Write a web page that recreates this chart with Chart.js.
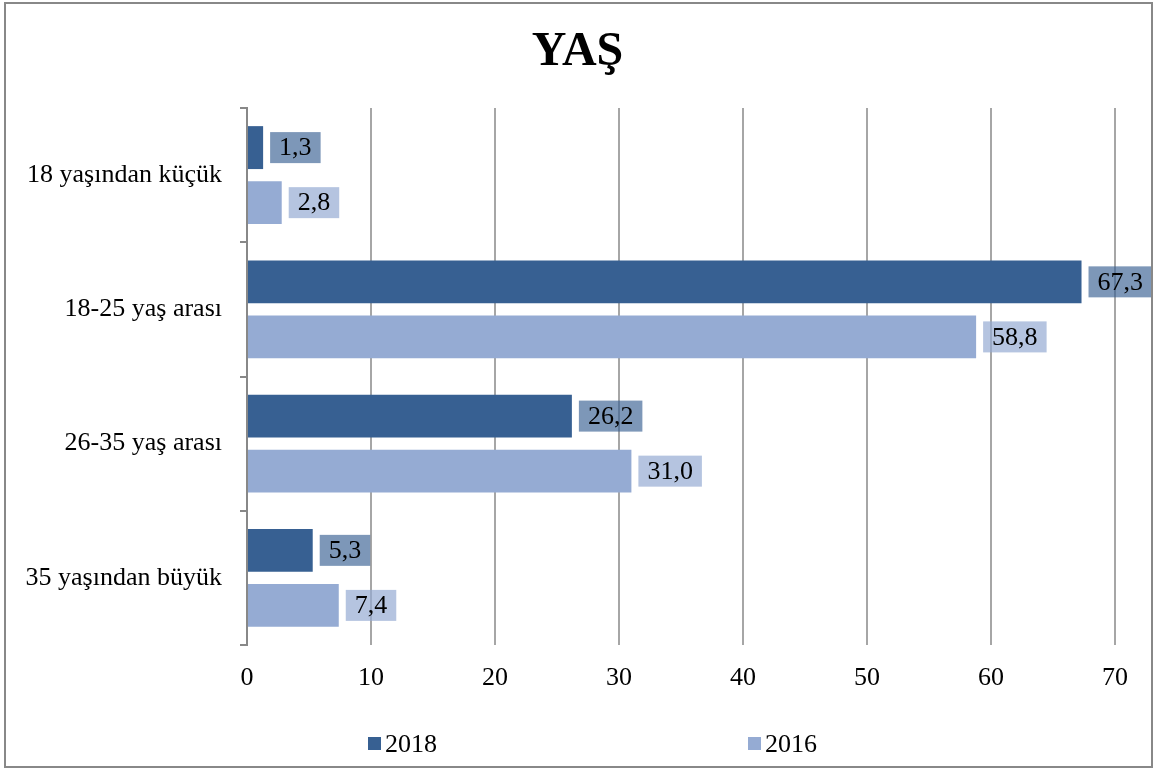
<!DOCTYPE html>
<html><head><meta charset="utf-8">
<script src="https://cdn.jsdelivr.net/npm/chart.js@4/dist/chart.umd.min.js"></script>
<style>html,body{margin:0;padding:0;background:#fff;}#wrap{width:1155px;height:770px;position:relative}</style>
</head><body><div id="wrap"><canvas id="c" width="1155" height="770"></canvas></div>
<script>
const categories = ['18 yaşından küçük', '18-25 yaş arası', '26-35 yaş arası', '35 yaşından büyük'];
const seriesNames = ['2018', '2016'];
const values2018 = [1.3, 67.3, 26.2, 5.3];
const values2016 = [2.8, 58.8, 31.0, 7.4];
const xTickValues = [0, 10, 20, 30, 40, 50, 60, 70];
const titleText = 'YAŞ';

const colors = ['#376092', '#95abd3'];
const labelBoxColors = ['rgba(55,96,146,0.65)', 'rgba(149,171,211,0.7)'];
const SERIF = '"Liberation Serif", "Times New Roman", serif';
const FS = 26;

const fmt = v => v.toFixed(1).replace('.', ',');

const dataLabelPlugin = {
  id: 'dataLabels',
  afterDatasetsDraw(chart) {
    const ctx = chart.ctx;
    ctx.save();
    ctx.font = FS + 'px ' + SERIF;
    ctx.textBaseline = 'middle';
    ctx.textAlign = 'center';
    chart.data.datasets.forEach((ds, di) => {
      const meta = chart.getDatasetMeta(di);
      meta.data.forEach((el, i) => {
        const txt = fmt(ds.data[i]);
        const tw = ctx.measureText(txt).width;
        const w = tw + 18, h = 31;
        const x0 = el.x + 7;
        const y0 = el.y - h / 2;
        ctx.fillStyle = labelBoxColors[di];
        ctx.fillRect(x0, y0, w, h);
        ctx.fillStyle = '#000';
        ctx.fillText(txt, x0 + w / 2, el.y + 1);
      });
    });
    ctx.restore();
  }
};

const legendBorderPlugin = {
  id: 'legendBorder',
  afterDraw(chart) {
    const ctx = chart.ctx;
    ctx.save();
    const pos = [368, 748];
    ctx.font = FS + 'px ' + SERIF;
    ctx.textBaseline = 'middle';
    ctx.textAlign = 'left';
    chart.data.datasets.forEach((ds, i) => {
      ctx.fillStyle = colors[i];
      ctx.fillRect(pos[i], 737, 13, 13);
      ctx.fillStyle = '#000';
      ctx.fillText(ds.label, pos[i] + 17, 745);
    });
    ctx.strokeStyle = '#888';
    ctx.lineWidth = 2;
    ctx.strokeRect(5, 3, 1147, 764);
    ctx.restore();
  }
};

new Chart(document.getElementById('c'), {
  type: 'bar',
  data: {
    labels: categories,
    datasets: [
      { label: seriesNames[0], data: values2018, backgroundColor: colors[0] },
      { label: seriesNames[1], data: values2016, backgroundColor: colors[1] }
    ]
  },
  options: {
    indexAxis: 'y',
    responsive: false,
    animation: false,
    categoryPercentage: 0.82,
    barPercentage: 0.78,
    layout: { padding: { left: 0, right: 0, top: 0, bottom: 0 } },
    plugins: {
      legend: { display: false },
      tooltip: { enabled: false },
      title: {
        display: true,
        text: titleText,
        color: '#000',
        font: { family: SERIF, size: 48, weight: 'bold', lineHeight: 1.2 },
        padding: { top: 24, bottom: 26.4 }
      }
    },
    scales: {
      x: {
        type: 'linear',
        min: xTickValues[0],
        max: xTickValues[xTickValues.length - 1],
        afterBuildTicks: s => { s.ticks = xTickValues.map(v => ({ value: v })); },
        afterFit: s => { s.height = 125; },
        border: { display: false },
        grid: { color: '#a6a6a6', lineWidth: 2, drawTicks: false },
        ticks: { color: '#000', font: { family: SERIF, size: FS }, padding: 18 }
      },
      y: {
        type: 'category',
        offset: true,
        afterFit: s => { s.width = 247; },
        border: { display: true, color: '#888', width: 2 },
        grid: { offset: true, drawOnChartArea: false, drawTicks: true, tickLength: 7, color: '#888', lineWidth: 2 },
        ticks: { color: '#000', font: { family: SERIF, size: FS }, padding: 18 }
      },
      yRight: {
        type: 'category',
        axis: 'y',
        position: 'right',
        offset: true,
        afterFit: s => { s.width = 40; },
        border: { display: false },
        grid: { display: false },
        ticks: { display: false }
      }
    }
  },
  plugins: [dataLabelPlugin, legendBorderPlugin]
});
</script>
</body></html>
